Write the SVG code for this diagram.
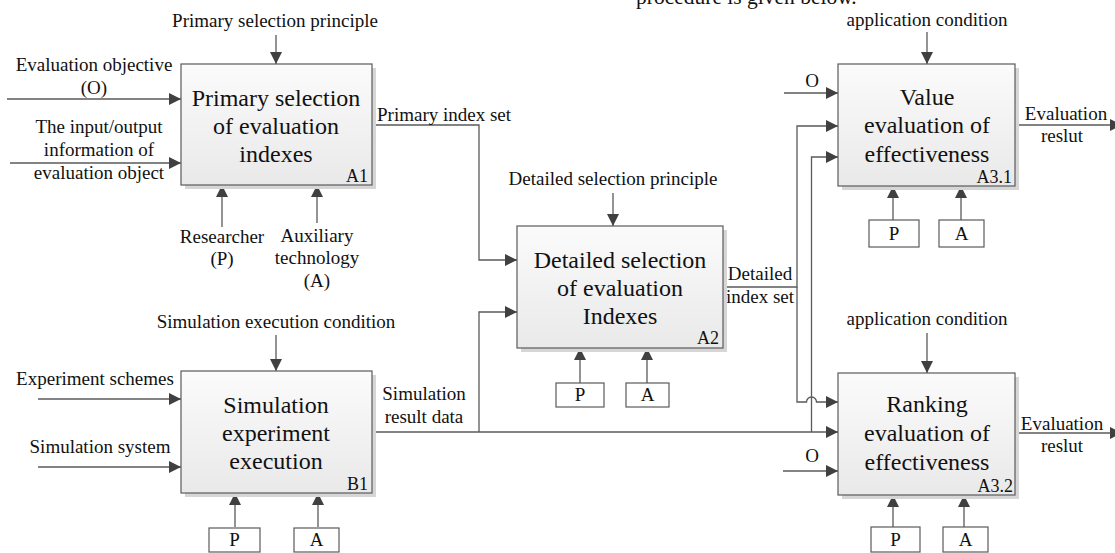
<svg xmlns="http://www.w3.org/2000/svg" width="1115" height="553" viewBox="0 0 1115 553">
<style>
.box{fill:url(#bg);stroke:#5a5a5a;stroke-width:1.2}
.sh{fill:#d6d6d6}
.sb{fill:#ffffff;stroke:#5a5a5a;stroke-width:1.2}
.ln{fill:none;stroke:#5a5a5a;stroke-width:1.3}
.ar{marker-end:url(#ah)}
text{font-family:"Liberation Serif","Times New Roman",serif;fill:#111;text-anchor:middle}
.t{font-size:19px}
.bt{font-size:24px}
.id{font-size:18px;text-anchor:end}
.lft{text-anchor:start}
</style>
<defs>
<linearGradient id="bg" x1="0" y1="0" x2="0" y2="1">
<stop offset="0" stop-color="#fbfbfb"/>
<stop offset="1" stop-color="#e9e9e9"/>
</linearGradient>
<marker id="ah" markerUnits="userSpaceOnUse" markerWidth="12" markerHeight="12" refX="12" refY="6" orient="auto">
<path d="M0,0 L12,6 L0,12 z" fill="#404040"/>
</marker>
</defs>

<text x="636" y="4" style="font-size:21.5px;text-anchor:start">procedure is given below.</text>

<g id="connectors">
<!-- A1 -->
<path class="ln ar" d="M276,35 V64"/>
<path class="ln ar" d="M7,99 H181"/>
<path class="ln ar" d="M10,163 H181"/>
<path class="ln ar" d="M222,227 V185"/>
<path class="ln ar" d="M317,223 V185"/>
<path class="ln ar" d="M372,125 H479 V260 H517"/>
<!-- B1 -->
<path class="ln ar" d="M276,335 V371"/>
<path class="ln ar" d="M38,399 H181"/>
<path class="ln ar" d="M38,467 H181"/>
<path class="ln ar" d="M235,527 V493"/>
<path class="ln ar" d="M318,527 V493"/>
<path class="ln ar" d="M372,432 H838"/>
<path class="ln ar" d="M479,432 V312 H517"/>
<path class="ln ar" d="M811.5,432 V157 H838"/>
<!-- A2 -->
<path class="ln ar" d="M613,193 V226"/>
<path class="ln ar" d="M580,383 V348"/>
<path class="ln ar" d="M647,383 V348"/>
<path class="ln ar" d="M723,287 H797 V126 H838"/>
<path class="ln ar" d="M797,287 V402 H806.5 A5,5 0 0 1 816.5,402 H838"/>
<!-- A3.1 -->
<path class="ln ar" d="M927,32 V64"/>
<path class="ln ar" d="M784,93 H838"/>
<path class="ln ar" d="M1015,125 H1122"/>
<path class="ln ar" d="M893,220 V186"/>
<path class="ln ar" d="M961,220 V186"/>
<!-- A3.2 -->
<path class="ln ar" d="M927,333 V373"/>
<path class="ln ar" d="M783,471 H838"/>
<path class="ln ar" d="M1015,433 H1122"/>
<path class="ln ar" d="M893,527 V495"/>
<path class="ln ar" d="M964,527 V495"/>
</g>

<g id="labels">
<text class="t" x="275" y="27">Primary selection principle</text>
<text class="t" x="94" y="71">Evaluation objective</text>
<text class="t" x="94" y="94">(O)</text>
<text class="t" x="99" y="133">The input/output</text>
<text class="t" x="99" y="156">information of</text>
<text class="t" x="99" y="179">evaluation object</text>
<text class="t" x="222" y="243">Researcher</text>
<text class="t" x="222" y="265">(P)</text>
<text class="t" x="317" y="242">Auxiliary</text>
<text class="t" x="317" y="264">technology</text>
<text class="t" x="317" y="287">(A)</text>
<text class="t lft" x="377" y="121">Primary index set</text>
<text class="t" x="613" y="185">Detailed selection principle</text>
<text class="t" x="276" y="328">Simulation execution condition</text>
<text class="t" x="95" y="385">Experiment schemes</text>
<text class="t" x="100" y="453">Simulation system</text>
<text class="t" x="424" y="400">Simulation</text>
<text class="t" x="424" y="423">result data</text>
<text class="t" x="760" y="280">Detailed</text>
<text class="t" x="760" y="303">index set</text>
<text class="t" x="927" y="26">application condition</text>
<text class="t" x="812" y="87">O</text>
<text class="t" x="1066" y="120">Evaluation</text>
<text class="t" x="1062" y="142">reslut</text>
<text class="t" x="927" y="325">application condition</text>
<text class="t" x="812" y="462">O</text>
<text class="t" x="1062" y="430">Evaluation</text>
<text class="t" x="1062" y="452">reslut</text>
</g>

<g id="A1">
<rect class="sh" x="185" y="68" width="191" height="121"/>
<rect class="box" x="181" y="64" width="191" height="121"/>
<text class="bt" x="276" y="106">Primary selection</text>
<text class="bt" x="276" y="134">of evaluation</text>
<text class="bt" x="276" y="162">indexes</text>
<text class="id" x="368" y="182">A1</text>
</g>

<g id="A2">
<rect class="sh" x="521" y="230" width="206" height="122"/>
<rect class="box" x="517" y="226" width="206" height="122"/>
<text class="bt" x="620" y="268">Detailed selection</text>
<text class="bt" x="620" y="296">of evaluation</text>
<text class="bt" x="620" y="324">Indexes</text>
<text class="id" x="719" y="344">A2</text>
</g>
<g id="A2-P"><rect class="sb" x="556" y="383" width="48" height="24"/><text class="t" x="580" y="401">P</text></g>
<g id="A2-A"><rect class="sb" x="626" y="383" width="43" height="24"/><text class="t" x="647.5" y="401">A</text></g>

<g id="B1">
<rect class="sh" x="185" y="375" width="191" height="122"/>
<rect class="box" x="181" y="371" width="191" height="122"/>
<text class="bt" x="276" y="413">Simulation</text>
<text class="bt" x="276" y="441">experiment</text>
<text class="bt" x="276" y="469">execution</text>
<text class="id" x="368" y="490">B1</text>
</g>
<g id="B1-P"><rect class="sb" x="209" y="528" width="51" height="24"/><text class="t" x="234.5" y="546">P</text></g>
<g id="B1-A"><rect class="sb" x="294" y="528" width="45" height="24"/><text class="t" x="316.5" y="546">A</text></g>

<g id="A3.1">
<rect class="sh" x="842" y="68" width="177" height="122"/>
<rect class="box" x="838" y="64" width="177" height="122"/>
<text class="bt" x="927" y="105">Value</text>
<text class="bt" x="927" y="133">evaluation of</text>
<text class="bt" x="927" y="162">effectiveness</text>
<text class="id" x="1012" y="183">A3.1</text>
</g>
<g id="A31-P"><rect class="sb" x="869" y="220" width="50" height="27"/><text class="t" x="894" y="240">P</text></g>
<g id="A31-A"><rect class="sb" x="939" y="220" width="45" height="27"/><text class="t" x="961.5" y="240">A</text></g>

<g id="A3.2">
<rect class="sh" x="842" y="377" width="177" height="122"/>
<rect class="box" x="838" y="373" width="177" height="122"/>
<text class="bt" x="927" y="412">Ranking</text>
<text class="bt" x="927" y="441">evaluation of</text>
<text class="bt" x="927" y="470">effectiveness</text>
<text class="id" x="1013" y="492">A3.2</text>
</g>
<g id="A32-P"><rect class="sb" x="871" y="527" width="49" height="25"/><text class="t" x="895.5" y="546">P</text></g>
<g id="A32-A"><rect class="sb" x="943" y="527" width="45" height="25"/><text class="t" x="965.5" y="546">A</text></g>
</svg>
